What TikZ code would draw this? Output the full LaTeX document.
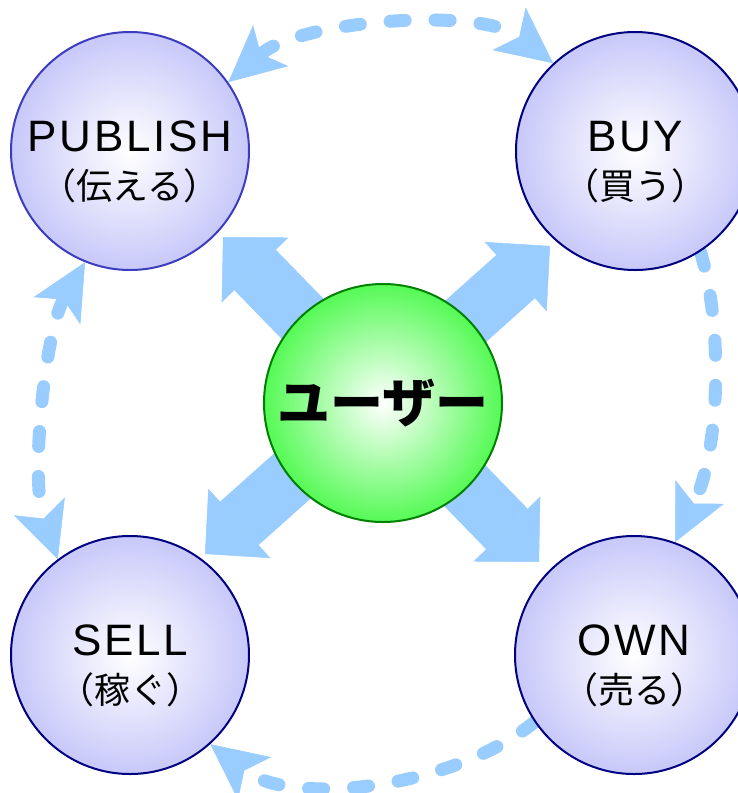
\documentclass[tikz,border=0pt]{standalone}
\usepackage{fontspec}
\setmainfont{Liberation Sans}
\newfontfamily\latinfont[LetterSpace=6]{Liberation Sans}
\newfontfamily\jafont{Noto Sans CJK JP}
\usetikzlibrary{arrows.meta,backgrounds}

\definecolor{flowblue}{RGB}{153,204,255}
\definecolor{roleedge}{RGB}{200,200,250}
\definecolor{rolenavy}{RGB}{0,0,128}
\definecolor{rolepub}{RGB}{60,60,190}
\definecolor{useredge}{RGB}{85,250,85}
\definecolor{userborder}{RGB}{0,128,0}

% two-line label: english word over its japanese reading
\newcommand{\rolelabel}[2]{{\latinfont\fontsize{44}{48}\selectfont\rule{0pt}{52pt}#1}\\{\jafont\fontsize{36}{48}\selectfont #2}}

\begin{document}
\begin{tikzpicture}[x=1pt,y=-1pt,
    role/.style={circle,draw=rolenavy,line width=2pt,minimum size=238pt,inner sep=0pt,
        inner color=white,outer color=roleedge,align=center,font=\fontsize{36}{48}\selectfont},
    fat/.style={flowblue,line width=58pt,
        {Triangle[length=46pt,width=93pt,line width=0.5pt]}-{Triangle[length=46pt,width=93pt,line width=0.5pt]}},
    flow/.style={flowblue,line width=13pt,line cap=round,dash pattern=on 15pt off 30pt,
        >={Stealth[length=56pt,width=54pt,inset=13pt,line width=0.5pt]}}]
    \useasboundingbox (0,0) rectangle (738,793);
    \clip (0,0) rectangle (738,793);

    % the four roles
    \node[role,draw=rolepub] (publish) at (130,151) {\rolelabel{PUBLISH}{（伝える）}};
    \node[role] (buy) at (635,151) {\rolelabel{BUY}{（買う）}};
    \node[role] (sell) at (130,655) {\rolelabel{SELL}{（稼ぐ）}};
    \node[role] (own) at (634,655) {\rolelabel{OWN}{（売る）}};

    % user in the middle
    \node[circle,draw=userborder,line width=2pt,minimum size=238pt,inner sep=0pt,
        inner color=white,outer color=useredge,
        font=\jafont\bfseries\fontsize{53}{60}\selectfont] (user) at (383,403) {ユーザー};

    % tips of the crossing arrows
    \coordinate (ulTip) at (223,237);
    \coordinate (lrTip) at (539,562);
    \coordinate (urTip) at (550,246);
    \coordinate (llTip) at (205,554);

    \begin{scope}[on background layer]
        % crossing arrows
        \draw[fat] (ulTip) -- (lrTip);
        \draw[fat] (urTip) -- (llTip);

        % dashed cycle round the roles
        \draw[flow,<->] (publish.35) .. controls +(72,-62) and +(-73,-57) .. (buy.133);
        \draw[flow,->] (buy.-57) .. controls +(23,75) and +(45,-92) .. (own.70);
        \draw[flow,->] (own.214) .. controls +(-85,68) and +(80,62) .. (sell.-48);
        \draw[flow,<->] (publish.248) .. controls +(-40,69) and +(-28,-80) .. (sell.127);
    \end{scope}
\end{tikzpicture}
\end{document}
